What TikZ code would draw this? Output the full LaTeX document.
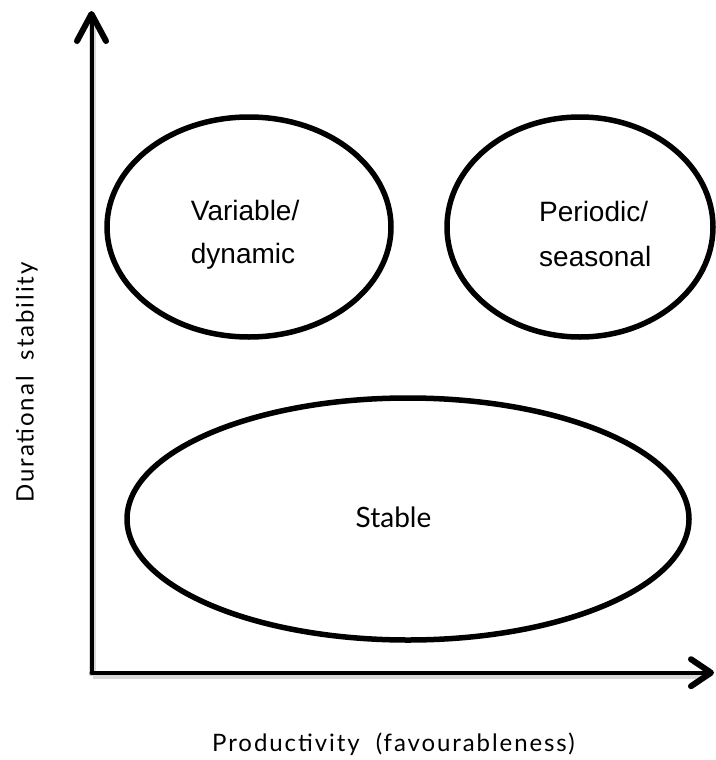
\documentclass[tikz,border=0pt]{standalone}
\usepackage{fontspec}
\setmainfont{Liberation Sans}
\newfontfamily\labfont[LetterSpace=8]{Lato}
\newfontfamily\stabfont{Lato}
\usetikzlibrary{shapes.geometric}
\begin{document}
\begin{tikzpicture}[x=1pt,y=-1pt,
  oval/.style={draw=black, line width=5.5pt, ellipse, inner sep=0pt},
  shade1/.style={draw=black!8, line width=11pt},
  shade2/.style={draw=black!18, line width=7pt},
  axisline/.style={line width=4pt, line cap=round},
  tipline/.style={line width=6pt, line cap=round, line join=round},
  intxt/.style={font=\fontsize{28}{34}\selectfont, inner sep=0pt},
  stabtxt/.style={font=\stabfont\fontsize{28}{34}\selectfont, inner sep=0pt},
  axtxt/.style={font=\labfont\fontsize{24}{30}\selectfont, inner sep=0pt}
]
\useasboundingbox[fill=white] (0,0) rectangle (715,760);

% shadows
\foreach \cx/\cy/\rx/\ry in {249/227/142/110, 580/227/133/110, 408/519/281/121}{
  \draw[shade1] (\cx pt+1pt,\cy pt+5pt) ellipse [x radius=\rx pt, y radius=\ry pt];
  \draw[shade2] (\cx pt+1pt,\cy pt+3pt) ellipse [x radius=\rx pt, y radius=\ry pt];
}

% ellipses
\node[oval, minimum width=284pt, minimum height=220pt] (var) at (249,227) {};
\node[oval, minimum width=266pt, minimum height=220pt] (per) at (580,227) {};
\node[oval, minimum width=562pt, minimum height=242pt] (stab) at (408,519) {};

% ellipse texts
\node[intxt, anchor=base west] (var1) at (190.7,220) {Variable/};
\node[intxt, anchor=base west] (var2) at (190.7,263) {dynamic};
\node[intxt, anchor=base west] (per1) at (539,221.7) {Periodic/};
\node[intxt, anchor=base west] (per2) at (539,266.7) {seasonal};
\node[stabtxt, anchor=base] (stabt) at (393.5,527) {Stable};

% axes
\coordinate (O) at (91.5,672.7);
\coordinate (ytip) at (91.5,14);
\coordinate (xtip) at (711,672.7);
\draw[draw=black!15, line width=7pt] (92.5,675.7) -- (92.5,20);
\draw[draw=black!15, line width=7pt] (92.5,675.7) -- (705,675.7);
\draw[axisline] (O) -- (ytip);
\draw[axisline] (O) -- (xtip);
\draw[tipline] ([xshift=-14.5pt,yshift=-27pt]ytip) -- (ytip) -- ([xshift=14.5pt,yshift=-27pt]ytip);
\draw[tipline] ([xshift=-20pt,yshift=13.5pt]xtip) -- (xtip) -- ([xshift=-20pt,yshift=-13.5pt]xtip);

% axis labels
\node[axtxt, anchor=base west] (xlab) at (212,751) {Productivity\ \ (favourableness)};
\node[axtxt, anchor=base, rotate=90] (ylab) at (33.5,382.5) {Durational\ \ stability};
\end{tikzpicture}
\end{document}
